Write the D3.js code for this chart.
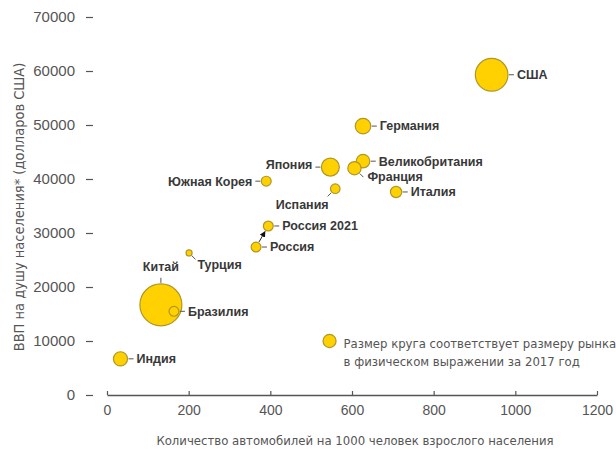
<!DOCTYPE html>
<html>
<head>
<meta charset="utf-8">
<script src="https://cdn.jsdelivr.net/npm/d3@7"></script>
<style>
  html, body { margin: 0; padding: 0; background: #fff; }
  svg { display: block; }
  .tick-label { font-family: "Liberation Sans", Arial, sans-serif; fill: #555; }
  .country { font-family: "Liberation Sans", Arial, sans-serif; font-weight: bold; fill: #383838; }
  .note { font-family: "Liberation Sans Narrow", "DejaVu Sans Condensed", sans-serif; fill: #555; }
</style>
</head>
<body>
<svg id="chart" width="616" height="452"></svg>
<script>
// Countries: cars per 1000 adults, GDP per capita (USD), 2017 market size (mln units)
const countries = ["США", "Германия", "Великобритания", "Франция", "Япония", "Испания", "Италия",
  "Южная Корея", "Россия 2021", "Россия", "Турция", "Китай", "Бразилия", "Индия"];
const carsPer1000 = [942, 627, 627, 606, 547, 559, 708, 390, 395, 365, 201, 132, 164, 33];
const gdpPerCapita = [59300, 49800, 43300, 42000, 42200, 38200, 37600, 39600, 31300, 27400, 26300, 16700, 15500, 6700];
const marketSize = [17.5, 4.0, 3.0, 2.9, 5.3, 1.5, 2.1, 1.6, 1.6, 1.6, 0.6, 29.0, 1.6, 3.3];

const xTicks = [0, 200, 400, 600, 800, 1000, 1200];
const yTicks = [0, 10000, 20000, 30000, 40000, 50000, 60000, 70000];

const xTitle = "Количество автомобилей на 1000 человек взрослого населения";
const yTitle = "ВВП на душу населения* (долларов США)";
const noteLines = ["Размер круга соответствует размеру рынка", "в физическом выражении за 2017 год"];

// Label placement: leader direction (deg), text anchor and offset from the leader end
const labelPlacement = {
  "США":            { a: 0,   anchor: "start",  dx: 3,  dy: 0 },
  "Германия":       { a: 0,   anchor: "start",  dx: 3,  dy: 0 },
  "Великобритания": { a: 0,   anchor: "start",  dx: 3,  dy: 0 },
  "Франция":        { a: 45,  anchor: "start",  dx: 4,  dy: -1 },
  "Япония":         { a: 180, anchor: "end",    dx: -3, dy: -2 },
  "Испания":        { a: 135, anchor: "end",    dx: 1,  dy: 8 },
  "Италия":         { a: 0,   anchor: "start",  dx: 3,  dy: 0 },
  "Южная Корея":    { a: 180, anchor: "end",    dx: -3, dy: 0 },
  "Россия 2021":    { a: 0,   anchor: "start",  dx: 3,  dy: 0 },
  "Россия":         { a: 0,   anchor: "start",  dx: 3,  dy: 0 },
  "Турция":         { a: 45,  anchor: "start",  dx: 2,  dy: 5 },
  "Китай":          { a: -90, anchor: "middle", dx: 0,  dy: -11 },
  "Бразилия":       { a: 0,   anchor: "start",  dx: 3,  dy: 0 },
  "Индия":          { a: 0,   anchor: "start",  dx: 3,  dy: 0 }
};

const data = countries.map((name, i) => ({
  name, x: carsPer1000[i], y: gdpPerCapita[i], m: marketSize[i]
}));

const svg = d3.select("#chart");
const x = d3.scaleLinear().domain([0, 1200]).range([107, 597]);
const y = d3.scaleLinear().domain([0, 70000]).range([395, 17]);
const r = d3.scaleSqrt().domain([0, 29]).range([0, 21]);

const fill = "#FFD100", stroke = "#B09624", axisColor = "#555";

// X axis: baseline with small upward ticks
const xAxis = d3.axisBottom(x).tickValues(xTicks).tickSize(0).tickPadding(0).tickFormat(d3.format("d"));
const gx = svg.append("g").attr("transform", `translate(0,${y(0)})`).call(xAxis);
gx.select(".domain").attr("stroke", axisColor).attr("stroke-width", 1.5);
gx.selectAll(".tick line").attr("y2", -4).attr("stroke", axisColor).attr("stroke-width", 1.2);
gx.selectAll(".tick text").attr("class", "tick-label").attr("y", 15).attr("dy", "0.35em")
  .style("font-size", "14px");

// Y axis: labels with short dashes, no axis line
const yAxis = d3.axisLeft(y).tickValues(yTicks).tickSize(0).tickFormat(d3.format("d"));
const gy = svg.append("g").attr("transform", "translate(93,0)").call(yAxis);
gy.select(".domain").remove();
gy.selectAll(".tick line").attr("x1", -7).attr("x2", 0).attr("stroke", axisColor).attr("stroke-width", 1.2);
gy.selectAll(".tick text").attr("class", "tick-label").attr("x", -18).style("font-size", "15px");

// Axis titles
svg.append("text").attr("class", "note")
  .attr("x", 355).attr("y", 440).attr("dy", "0.35em")
  .attr("text-anchor", "middle").style("font-size", "13px").text(xTitle);
svg.append("text").attr("class", "note")
  .attr("transform", `translate(19,${(60 + 354) / 2}) rotate(-90)`)
  .attr("dy", "0.35em").attr("text-anchor", "middle").style("font-size", "14.5px").text(yTitle);

// Arrow from Russia to Russia 2021
const defs = svg.append("defs");
defs.append("marker").attr("id", "arrowhead")
  .attr("viewBox", "0 0 10 10").attr("refX", 9).attr("refY", 5)
  .attr("markerWidth", 6).attr("markerHeight", 6).attr("orient", "auto")
  .append("path").attr("d", "M0,0 L10,5 L0,10 Z").attr("fill", "#111");

const ru = data.find(d => d.name === "Россия");
const ru21 = data.find(d => d.name === "Россия 2021");
{
  const x1 = x(ru.x), y1 = y(ru.y), x2 = x(ru21.x), y2 = y(ru21.y);
  const len = Math.hypot(x2 - x1, y2 - y1);
  const ux = (x2 - x1) / len, uy = (y2 - y1) / len;
  const s = r(ru.m) + 1, e = r(ru21.m) + 1.5;
  svg.append("line")
    .attr("x1", x1 + ux * s).attr("y1", y1 + uy * s)
    .attr("x2", x2 - ux * e).attr("y2", y2 - uy * e)
    .attr("stroke", "#222").attr("stroke-width", 1)
    .attr("marker-end", "url(#arrowhead)");
}

// Bubbles, largest first so small ones stay visible
const sorted = data.slice().sort((a, b) => b.m - a.m);
svg.append("g").selectAll("circle").data(sorted).join("circle")
  .attr("cx", d => x(d.x)).attr("cy", d => y(d.y)).attr("r", d => r(d.m))
  .attr("fill", fill).attr("stroke", stroke).attr("stroke-width", 1.2);

// Leader lines and country labels
const labels = svg.append("g");
data.forEach(d => {
  const p = labelPlacement[d.name];
  const rad = p.a * Math.PI / 180;
  const cx = x(d.x), cy = y(d.y), rr = r(d.m);
  const sx = cx + Math.cos(rad) * (rr + 1), sy = cy + Math.sin(rad) * (rr + 1);
  const ex = cx + Math.cos(rad) * (rr + 6), ey = cy + Math.sin(rad) * (rr + 6);
  labels.append("line").attr("x1", sx).attr("y1", sy).attr("x2", ex).attr("y2", ey)
    .attr("stroke", axisColor).attr("stroke-width", 1);
  labels.append("text").attr("class", "country")
    .attr("x", ex + p.dx).attr("y", ey + p.dy).attr("dy", "0.35em")
    .attr("text-anchor", p.anchor).style("font-size", "12.5px").text(d.name);
});

// Size note with sample bubble
const nx = x(545), ny = y(10000);
svg.append("circle").attr("cx", nx).attr("cy", ny).attr("r", r(2.8))
  .attr("fill", fill).attr("stroke", stroke).attr("stroke-width", 1.2);
const note = svg.append("text").attr("class", "note").style("font-size", "13px");
noteLines.forEach((t, i) => {
  note.append("tspan").attr("x", nx + 14).attr("y", ny + 2 + i * 18).attr("dy", "0.35em").text(t);
});
</script>
</body>
</html>
